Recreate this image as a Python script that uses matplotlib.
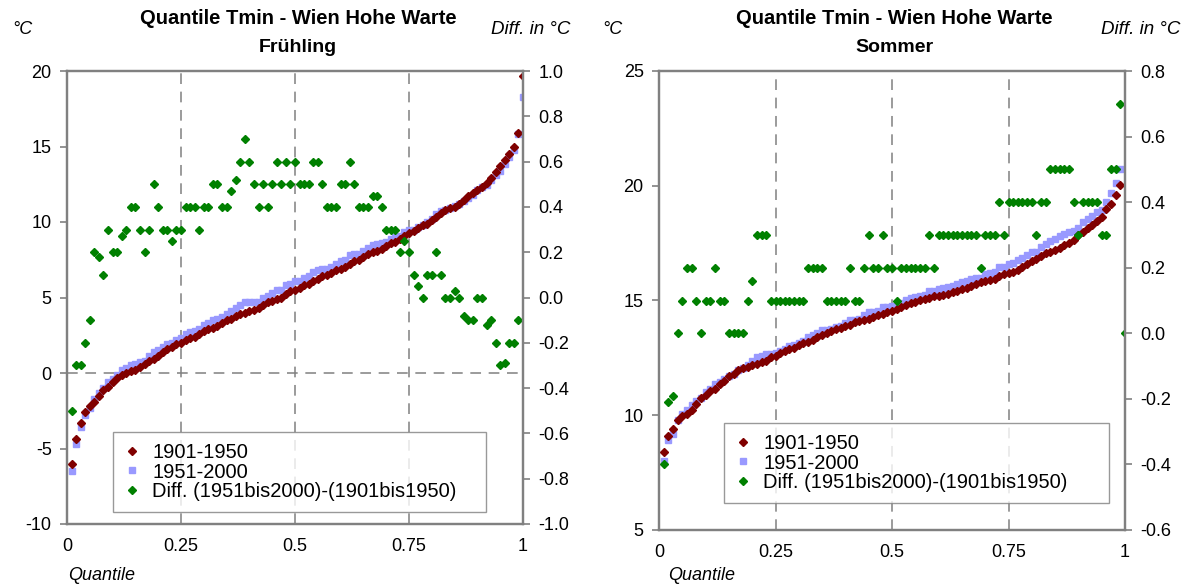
import numpy as np
import matplotlib
matplotlib.use('Agg')
import matplotlib.pyplot as plt

plt.rcParams['font.family'] = ['Liberation Sans', 'DejaVu Sans']
plt.rcParams['axes.unicode_minus'] = False

# quantile levels 0.01 .. 1.00
quantile = [i / 100 for i in range(1, 101)]

# Fruehling (spring)
spring_1901_1950 = [
    -6.0, -4.4, -3.3, -2.6, -2.2, -1.9, -1.5, -1.1, -0.9, -0.6,
    -0.3, -0.1, 0.0, 0.1, 0.2, 0.4, 0.6, 0.8, 0.9, 1.1,
    1.4, 1.6, 1.7, 1.9, 2.0, 2.2, 2.3, 2.4, 2.6, 2.8,
    2.9, 3.0, 3.1, 3.3, 3.5, 3.6, 3.8, 3.9, 4.0, 4.1,
    4.2, 4.3, 4.5, 4.7, 4.8, 4.9, 5.0, 5.2, 5.4, 5.5,
    5.6, 5.8, 5.9, 6.1, 6.2, 6.4, 6.5, 6.6, 6.8, 6.9,
    7.0, 7.2, 7.4, 7.5, 7.7, 7.9, 8.0, 8.1, 8.2, 8.4,
    8.6, 8.7, 8.9, 9.1, 9.3, 9.4, 9.6, 9.8, 9.9, 10.1,
    10.3, 10.6, 10.8, 10.9, 11.0, 11.2, 11.45, 11.7, 11.9, 12.1,
    12.3, 12.6, 12.9, 13.3, 13.7, 14.1, 14.5, 15.0, 15.9, 19.7]
spring_1951_2000 = [
    -6.5, -4.7, -3.6, -2.8, -2.3, -1.7, -1.3, -1.0, -0.6, -0.4,
    -0.1, 0.2, 0.3, 0.5, 0.6, 0.7, 0.8, 1.1, 1.4, 1.5,
    1.7, 1.9, 2.0, 2.2, 2.3, 2.6, 2.7, 2.8, 2.9, 3.2,
    3.3, 3.5, 3.6, 3.7, 3.9, 4.1, 4.3, 4.5, 4.7, 4.7,
    4.7, 4.7, 5.0, 5.1, 5.3, 5.5, 5.5, 5.8, 5.9, 6.1,
    6.1, 6.3, 6.4, 6.7, 6.8, 6.9, 6.9, 7.0, 7.2, 7.4,
    7.5, 7.8, 7.9, 7.9, 8.1, 8.3, 8.45, 8.55, 8.6, 8.7,
    8.9, 9.0, 9.1, 9.35, 9.5, 9.5, 9.65, 9.8, 10.0, 10.2,
    10.5, 10.7, 10.8, 10.9, 11.03, 11.2, 11.37, 11.6, 11.8, 12.1,
    12.3, 12.48, 12.8, 13.1, 13.4, 13.81, 14.3, 14.8, 15.8, 18.3]
spring_diff = [
    -0.50, -0.30, -0.30, -0.20, -0.10, 0.20, 0.18, 0.10, 0.30, 0.20,
    0.20, 0.27, 0.30, 0.40, 0.40, 0.30, 0.20, 0.30, 0.50, 0.40,
    0.30, 0.30, 0.25, 0.30, 0.30, 0.40, 0.40, 0.40, 0.30, 0.40,
    0.40, 0.50, 0.50, 0.40, 0.40, 0.47, 0.52, 0.60, 0.70, 0.60,
    0.50, 0.40, 0.50, 0.40, 0.50, 0.60, 0.50, 0.60, 0.50, 0.60,
    0.50, 0.50, 0.50, 0.60, 0.60, 0.50, 0.40, 0.40, 0.40, 0.50,
    0.50, 0.60, 0.50, 0.40, 0.40, 0.40, 0.45, 0.45, 0.40, 0.30,
    0.30, 0.30, 0.20, 0.25, 0.20, 0.10, 0.05, 0.00, 0.10, 0.10,
    0.20, 0.10, 0.00, 0.00, 0.03, 0.00, -0.08, -0.10, -0.10, 0.00,
    0.00, -0.12, -0.10, -0.20, -0.30, -0.29, -0.20, -0.20, -0.10, -1.40]

# Sommer (summer)
summer_1901_1950 = [
    8.4, 9.1, 9.4, 9.8, 9.95, 10.05, 10.25, 10.5, 10.75, 10.9,
    11.05, 11.15, 11.35, 11.5, 11.7, 11.8, 11.95, 12.05, 12.1, 12.2,
    12.25, 12.3, 12.35, 12.55, 12.6, 12.7, 12.8, 12.9, 12.95, 13.05,
    13.15, 13.2, 13.3, 13.4, 13.5, 13.6, 13.65, 13.75, 13.8, 13.9,
    13.95, 14.05, 14.1, 14.15, 14.2, 14.3, 14.35, 14.4, 14.5, 14.55,
    14.65, 14.7, 14.8, 14.9, 14.95, 15.0, 15.05, 15.1, 15.2, 15.2,
    15.25, 15.3, 15.35, 15.4, 15.5, 15.55, 15.65, 15.7, 15.8, 15.85,
    15.9, 15.95, 16.05, 16.15, 16.2, 16.25, 16.35, 16.45, 16.6, 16.7,
    16.8, 16.95, 17.05, 17.1, 17.2, 17.3, 17.4, 17.5, 17.65, 17.85,
    18.0, 18.15, 18.3, 18.45, 18.65, 19.0, 19.2, 19.6, 20.05, 25.6]
summer_1951_2000 = [
    8.0, 8.9, 9.2, 9.8, 10.05, 10.25, 10.45, 10.6, 10.75, 11.0,
    11.15, 11.35, 11.45, 11.6, 11.7, 11.8, 11.95, 12.05, 12.2, 12.36,
    12.55, 12.6, 12.65, 12.65, 12.7, 12.8, 12.9, 13.0, 13.05, 13.15,
    13.25, 13.4, 13.5, 13.6, 13.7, 13.7, 13.75, 13.85, 13.9, 14.0,
    14.15, 14.15, 14.2, 14.35, 14.5, 14.5, 14.55, 14.7, 14.7, 14.75,
    14.75, 14.9, 15.0, 15.1, 15.15, 15.2, 15.25, 15.4, 15.4, 15.5,
    15.55, 15.6, 15.65, 15.7, 15.8, 15.85, 15.95, 16.0, 16.0, 16.15,
    16.2, 16.25, 16.45, 16.45, 16.6, 16.65, 16.75, 16.85, 17.0, 17.1,
    17.1, 17.35, 17.45, 17.6, 17.7, 17.8, 17.9, 18.0, 18.05, 18.15,
    18.4, 18.55, 18.7, 18.85, 18.95, 19.3, 19.7, 20.1, 20.75, 25.6]
summer_diff = [
    -0.40, -0.21, -0.19, 0.0, 0.1, 0.2, 0.2, 0.1, 0.0, 0.1,
    0.1, 0.2, 0.1, 0.1, 0.0, 0.0, 0.0, 0.0, 0.1, 0.16,
    0.3, 0.3, 0.3, 0.1, 0.1, 0.1, 0.1, 0.1, 0.1, 0.1,
    0.1, 0.2, 0.2, 0.2, 0.2, 0.1, 0.1, 0.1, 0.1, 0.1,
    0.2, 0.1, 0.1, 0.2, 0.3, 0.2, 0.2, 0.3, 0.2, 0.2,
    0.1, 0.2, 0.2, 0.2, 0.2, 0.2, 0.2, 0.3, 0.2, 0.3,
    0.3, 0.3, 0.3, 0.3, 0.3, 0.3, 0.3, 0.3, 0.2, 0.3,
    0.3, 0.3, 0.4, 0.3, 0.4, 0.4, 0.4, 0.4, 0.4, 0.4,
    0.3, 0.4, 0.4, 0.5, 0.5, 0.5, 0.5, 0.5, 0.4, 0.3,
    0.4, 0.4, 0.4, 0.4, 0.3, 0.3, 0.5, 0.5, 0.7, 0.0]

x_ticks = [0, 0.25, 0.5, 0.75, 1]
x_ticklabels = ['0', '0.25', '0.5', '0.75', '1']
labels = ['1901-1950', '1951-2000', 'Diff. (1951bis2000)-(1901bis1950)']

RED = '#800000'
BLUE = '#9999FF'
GREEN = '#008000'
GRAY = '#808080'

W, H = 1194, 584
fig = plt.figure(figsize=(W / 100, H / 100), dpi=100)


def px_rect(x0, y0, x1, y1):
    return [x0 / W, 1 - y1 / H, (x1 - x0) / W, (y1 - y0) / H]


def panel(rect, t1950, t2000, diff, ylim, yticks, dlim, dticks, leg_box, hline):
    ax = fig.add_axes(rect)
    ax2 = ax.twinx()
    ax.set_xlim(0, 1)
    ax.set_ylim(*ylim)
    ax.set_yticks(yticks)
    ax.set_xticks(x_ticks)
    ax.set_xticklabels(x_ticklabels)
    ax2.set_ylim(*dlim)
    ax2.set_yticks(dticks)
    ax2.set_yticklabels(['%.1f' % v for v in dticks])
    for a in (ax, ax2):
        for s in a.spines.values():
            s.set_color(GRAY)
            s.set_linewidth(1.6)
    ax.tick_params(axis='y', length=5, width=1.2, color=GRAY, labelsize=13, pad=6)
    ax.tick_params(axis='x', length=0, labelsize=13, pad=10)
    ax2.tick_params(axis='y', length=5, width=1.2, color=GRAY, labelsize=13, pad=6)
    for xv in x_ticks[1:-1]:
        ax.axvline(xv, color=GRAY, lw=1.1, ls=(0, (7, 5)), zorder=0)
    if hline is not None:
        ax.axhline(hline, color=GRAY, lw=1.1, ls=(0, (7, 5)), zorder=0)

    h1, = ax.plot(quantile, t1950, ls='none', marker='D', ms=3.8, color=RED, zorder=3)
    h2, = ax.plot(quantile, t2000, ls='none', marker='s', ms=4.8, color=BLUE, zorder=2)
    h3, = ax2.plot(quantile, diff, ls='none', marker='D', ms=3.8, color=GREEN)

    leg = ax.legend([h1, h2, h3], labels, loc='lower left', bbox_to_anchor=leg_box,
                    mode='expand', borderaxespad=0, fontsize=14.5, frameon=True,
                    fancybox=False, edgecolor=GRAY, handlelength=0.8,
                    handletextpad=0.6, borderpad=0.55, labelspacing=0.02)
    leg.get_frame().set_linewidth(1.0)
    leg.remove()
    ax2.add_artist(leg)
    return ax


panel(px_rect(67, 71, 523, 524), spring_1901_1950, spring_1951_2000, spring_diff,
      (-10, 20), [-10, -5, 0, 5, 10, 15, 20], (-1.0, 1.0),
      [-1.0, -0.8, -0.6, -0.4, -0.2, 0.0, 0.2, 0.4, 0.6, 0.8, 1.0],
      ((113 - 67) / 456, (524 - 512) / 453, (486 - 113) / 456, 0.17), 0)

panel(px_rect(659, 71, 1125, 530), summer_1901_1950, summer_1951_2000, summer_diff,
      (5, 25), [5, 10, 15, 20, 25], (-0.6, 0.8),
      [-0.6, -0.4, -0.2, 0.0, 0.2, 0.4, 0.6, 0.8],
      ((724 - 659) / 466, (530 - 503) / 459, (1109 - 724) / 466, 0.17), None)


def ftext(x, y, s, **kw):
    fig.text(x / W, 1 - y / H, s, **kw)


for cx, season in ((298, 'Frühling'), (894, 'Sommer')):
    ftext(cx, 19, 'Quantile Tmin - Wien Hohe Warte', ha='center', va='center',
          fontsize=14.5, fontweight='bold')
    ftext(cx, 47, season, ha='center', va='center', fontsize=14, fontweight='bold')

ftext(22, 30, '°C', ha='center', va='center', fontsize=13, style='italic')
ftext(531, 30, 'Diff. in °C', ha='center', va='center', fontsize=13.5, style='italic')
ftext(68, 575, 'Quantile', ha='left', va='center', fontsize=13, style='italic')
ftext(612, 30, '°C', ha='center', va='center', fontsize=13, style='italic')
ftext(1141, 30, 'Diff. in °C', ha='center', va='center', fontsize=13.5, style='italic')
ftext(668, 576, 'Quantile', ha='left', va='center', fontsize=13, style='italic')

fig.savefig('out.png', dpi=100)
